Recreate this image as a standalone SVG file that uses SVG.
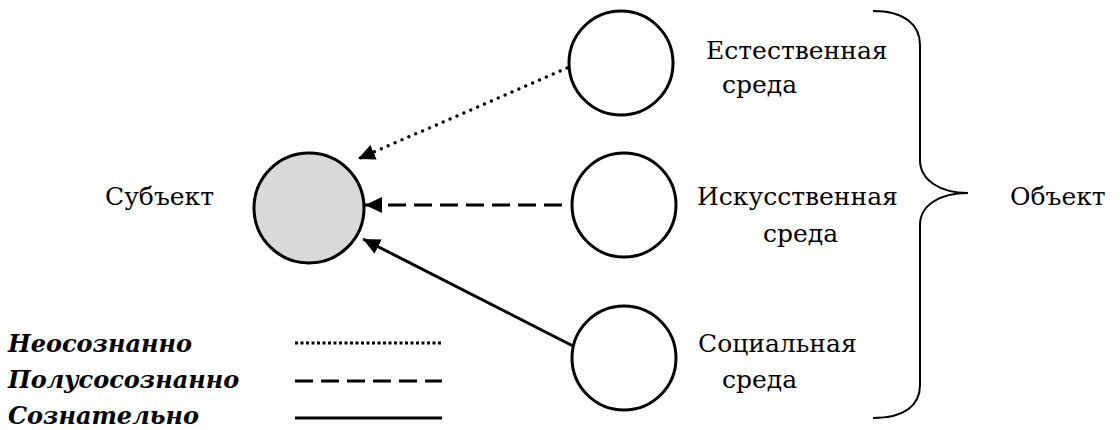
<svg xmlns="http://www.w3.org/2000/svg" width="1120" height="430" viewBox="0 0 1120 430">
<style>
.node{fill:#fff;stroke:#000;stroke-width:3}
.lbl{font-family:'DejaVu Serif',serif;font-size:25px;fill:#000}
.leg{font-family:'DejaVu Serif',serif;font-size:24px;font-weight:bold;font-style:italic;fill:#000}
.ln{stroke:#000;stroke-width:3;fill:none}
</style>
<defs>
<marker id="ah" markerUnits="userSpaceOnUse" markerWidth="20" markerHeight="18" refX="17" refY="8" orient="auto">
<path d="M0,0 L17,8 L0,16 Z" fill="#000"/>
</marker>
</defs>
<rect width="1120" height="430" fill="#fff"/>
<g id="subject">
<circle cx="309" cy="208" r="55" class="node" style="fill:#d9d9d9"/>
<text class="lbl" x="105" y="205">Субъект</text>
</g>
<g id="natural">
<circle cx="621" cy="63" r="52" class="node"/>
<text class="lbl" x="706" y="59">Естественная</text>
<text class="lbl" x="722" y="93">среда</text>
</g>
<g id="artificial">
<circle cx="624" cy="205" r="52" class="node"/>
<text class="lbl" x="697" y="205">Искусственная</text>
<text class="lbl" x="763" y="242">среда</text>
</g>
<g id="social">
<circle cx="624" cy="358" r="52" class="node"/>
<text class="lbl" x="698" y="352">Социальная</text>
<text class="lbl" x="722" y="388">среда</text>
</g>
<g id="object">
<path d="M873,11 C905,11 920,25 920,45 L920,160 C920,180 940,193 968,193 C940,193 920,205 920,225 L920,385 C920,405 905,418 873,418" fill="none" stroke="#000" stroke-width="2"/>
<text class="lbl" x="1010" y="205">Объект</text>
</g>
<g id="connectors">
<line x1="567" y1="68" x2="358" y2="159" class="ln" stroke-dasharray="0,7.5" stroke-linecap="round" style="stroke-width:3.5" marker-end="url(#ah)"/>
<line x1="562" y1="205" x2="365" y2="205" class="ln" stroke-dasharray="18,8" marker-end="url(#ah)"/>
<line x1="573" y1="346" x2="363" y2="239" class="ln" marker-end="url(#ah)"/>
</g>
<g id="legend">
<text class="leg" x="8" y="352">Неосознанно</text>
<text class="leg" x="8" y="388">Полусосознанно</text>
<text class="leg" x="8" y="424">Сознательно</text>
<line x1="295" y1="343" x2="442" y2="343" class="ln" stroke-dasharray="3,2.5"/>
<line x1="295" y1="381" x2="442" y2="381" class="ln" stroke-dasharray="18,8"/>
<line x1="295" y1="418" x2="442" y2="418" class="ln"/>
</g>
</svg>
